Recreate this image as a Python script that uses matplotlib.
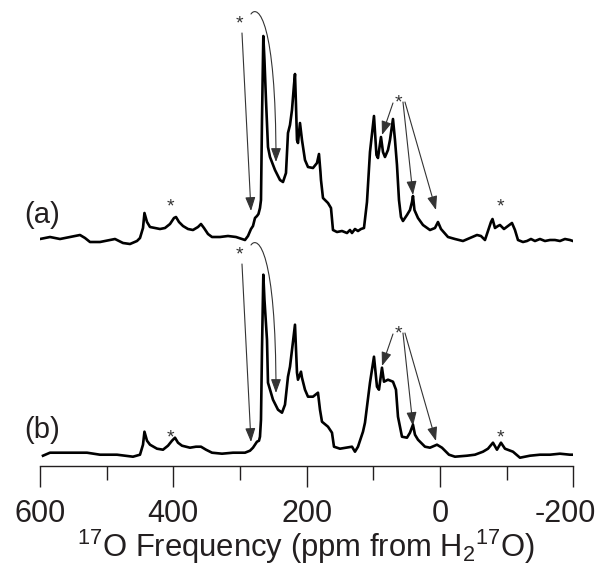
import matplotlib
matplotlib.use("Agg")
import matplotlib.pyplot as plt
from matplotlib.patches import FancyArrowPatch
from matplotlib.path import Path
from matplotlib.transforms import ScaledTranslation

plt.rcParams['font.family'] = ['Liberation Sans', 'DejaVu Sans']
plt.rcParams['mathtext.fontset'] = 'custom'
plt.rcParams['mathtext.rm'] = 'Liberation Sans'
plt.rcParams['mathtext.it'] = 'Liberation Sans'
plt.rcParams['mathtext.bf'] = 'Liberation Sans'

# ---------------- data ----------------
ppm_a = [600, 585, 570, 555, 540, 532.5, 525, 510, 495, 487.5, 475.5, 465, 454.5, 450,
         445.5, 443.3, 439.5, 435, 427.5, 420, 412.5, 405, 399, 396, 391.5, 385.5, 378,
         370.5, 363, 358.5, 354, 348, 342, 330, 318, 306, 297, 292.5, 288, 283.5, 280.5,
         277.5, 274.5, 272.3, 270, 268.5, 267, 265, 263.3, 261, 258, 255, 247.5, 240,
         235.5, 231, 228, 225, 222, 219, 217.5, 216, 214.5, 213, 210, 207, 202.5, 198,
         190.5, 184.5, 181.5, 179.3, 178.5, 175.5, 168, 163.5, 160.5, 154.5, 147, 139.5,
         135, 132, 127.5, 123, 118.5, 114, 109.5, 105, 99, 95.3, 93, 88.5, 85.5, 82.5, 78,
         75, 70.5, 67.5, 64.5, 61.5, 58.5, 55.5, 49.5, 45, 42, 40.5, 38.3, 33, 25.5, 15,
         7.5, 3, -1.5, -12, -22.5, -34.5, -45, -55.5, -61.5, -67.5, -72, -76.5, -78.8,
         -82.5, -87, -90, -96, -102, -108, -112.5, -117, -124.5, -130.5, -136.5, -142.5,
         -150, -157.5, -165, -172.5, -180, -187.5, -195, -199.5]
int_a = [1, 3, 1, 3, 5, 2, -2, -2, 0, 1, -3, -4, -1, 2,
         12, 27, 18, 13, 12, 11, 12, 16, 22, 23, 18, 14, 11,
         10, 13, 16, 12, 6, 3, 3, 4, 3, 1, 0, 4, 11, 14,
         22, 24, 26, 32, 40, 120, 204, 180, 140, 93, 83, 70, 60,
         58, 67, 107, 115, 130, 155, 166, 135, 100, 97, 117, 100, 80, 73,
         72, 77, 86, 68, 60, 42, 37, 32, 10, 8, 9, 7,
         10, 7, 11, 9, 11, 12, 38, 88, 124, 85, 82, 103, 88, 83, 90,
         100, 121, 100, 75, 40, 23, 19, 25, 30, 38, 44, 30, 22, 15, 10,
         12, 18, 11, 3, 1, -1, 2, 5, 4, 0, 9, 18, 21,
         12, 14, 15, 11, 14, 17, 10, 0, -2, -1, 1, -1,
         1, -1, 0, 0, -1, 1, 0, -1]

ppm_b = [595.5, 585, 559.5, 529.5, 510, 484.5, 460.5, 450, 445.5, 443.3, 439.5, 435,
         424.5, 415.5, 408, 402, 397.5, 393, 387, 375, 366, 358.5, 351, 342, 327, 310.5,
         300, 292.5, 285, 280.5, 274.5, 271.5, 270, 268.5, 267, 265, 263.3, 259.5, 258,
         250.5, 243, 237, 232.5, 228, 225, 220.5, 217.5, 215.3, 214.5, 213, 208.5, 207,
         202.5, 198, 190.5, 183, 180, 177, 168, 162, 159, 150, 141, 132, 127.5, 123,
         115.5, 112.5, 105, 99, 94.5, 91.5, 87, 84, 78, 70.5, 66, 63, 57, 49.5, 45, 40.5,
         37.5, 33, 22.5, 15, 4.5, -3, -13.5, -22.5, -40.5, -52.5, -64.5, -72, -79.5,
         -85.5, -91.5, -97.5, -109.5, -120, -135, -150, -165, -180, -195, -199.5]
int_b = [0, 3, 3, 3, 1, 1, -1, 1, 11, 24, 15, 11,
         7, 6, 10, 15, 18, 13, 10, 8, 9, 9, 6, 3, 2, 3,
         3, 3, 5, 8, 14, 15, 19, 36, 106, 181, 156, 116, 73,
         56, 46, 43, 51, 79, 89, 114, 131, 96, 83, 76, 84, 78,
         66, 59, 59, 63, 46, 34, 29, 23, 9, 7, 8, 9, 4, 9,
         24, 33, 73, 99, 69, 66, 88, 74, 76, 74, 66, 39, 19, 18, 23, 31,
         21, 16, 9, 8, 11, 8, 1, -1, 0, 1, 4, 7, 13,
         6, 13, 7, 4, -2, 0, 1, 1, 2, 1, 1]

spectrum_labels = ['(a)', '(b)']
xtick_major = [600, 400, 200, 0, -200]
xtick_minor = [500, 300, 100, -100]
xlabel = r'$^{17}$O Frequency (ppm from H$_{2}$$^{17}$O)'

# ---------------- layout ----------------
W, H = 601, 569
fig = plt.figure(figsize=(W / 100, H / 100), dpi=100)
ax_left, ax_right = 40 / W, 573.3 / W
ax_bottom = (H - 465.7) / H
ax = fig.add_axes([ax_left, ax_bottom, ax_right - ax_left, 1 - ax_bottom])
ax.set_xlim(600, -200)
ax.set_ylim(0, 465.7)

ink = '#231f20'
arrow_col = '#333333'

off_a, off_b = 225.7, 10.0
ax.plot(ppm_a, [v + off_a for v in int_a], color='black', lw=1.9, solid_joinstyle='round')
ax.plot(ppm_b, [v + off_b for v in int_b], color='black', lw=1.9, solid_joinstyle='round')

for s in ['top', 'left', 'right']:
    ax.spines[s].set_visible(False)
ax.spines['bottom'].set_color(ink)
ax.spines['bottom'].set_linewidth(1.0)
ax.set_yticks([])
ax.set_xticks(xtick_major)
ax.set_xticklabels([str(v) for v in xtick_major])
ax.set_xticks(xtick_minor, minor=True)
ax.tick_params(axis='x', which='major', direction='out', length=15, width=1.0,
               color=ink, labelsize=22, labelcolor=ink, pad=9)
ax.tick_params(axis='x', which='minor', direction='out', length=10, width=1.0, color=ink)
# the last label sits a little to the left of its tick, as in the reference
last = ax.get_xticklabels()[-1]
last.set_transform(last.get_transform() + ScaledTranslation(-0.08, 0, fig.dpi_scale_trans))

fig.text((ax_left + ax_right) / 2, (H - 556.7) / H, xlabel, ha='center', va='baseline',
         fontsize=22.3, color=ink)

# ---------------- annotations ----------------
def annotate(dy):
    kw = dict(arrowstyle='-|>,head_length=0.6,head_width=0.22', color=arrow_col,
              lw=0.8, mutation_scale=14, shrinkA=0, shrinkB=0)
    # stars
    for (xs, ys) in [(301.5, 442.0), (405, 259.0), (63, 363.0), (-90, 259.0)]:
        ax.text(xs, ys - dy, '*', ha='center', va='center', fontsize=14, color=arrow_col)
    # straight arrow to the shoulder of the tall peak
    ax.add_patch(FancyArrowPatch((297, 432.7 - dy), (283.5, 254.7 - dy), **kw))
    # curved arrow
    verts = [(283.5, 451.7 - dy), (273, 461.7 - dy), (246, 445.7 - dy), (246, 303.7 - dy)]
    codes = [Path.MOVETO, Path.CURVE4, Path.CURVE4, Path.CURVE4]
    ax.add_patch(FancyArrowPatch(path=Path(verts, codes), **kw))
    # arrows from the right-hand star
    ax.add_patch(FancyArrowPatch((70.5, 362.7 - dy), (87, 330.7 - dy), **kw))
    ax.add_patch(FancyArrowPatch((55.5, 363.7 - dy), (40.5, 270.7 - dy), **kw))
    ax.add_patch(FancyArrowPatch((52.5, 363.7 - dy), (6, 255.7 - dy), **kw))

annotate(0)
annotate(231)

ax.text(597, 465.7 - 215, spectrum_labels[0], ha='center', va='center', fontsize=21,
        color=ink, clip_on=False)
ax.text(597, 465.7 - 430, spectrum_labels[1], ha='center', va='center', fontsize=21,
        color=ink, clip_on=False)

fig.savefig('out.png', dpi=100)
